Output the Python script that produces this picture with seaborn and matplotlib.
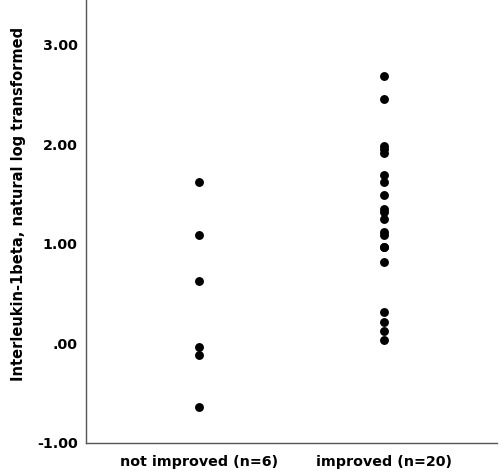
import numpy as np
import pandas as pd
import matplotlib
matplotlib.use('Agg')
import matplotlib.pyplot as plt
import seaborn as sns

# values (IL-1beta, natural log)
groups = ['not improved (n=6)', 'improved (n=20)']
not_improved = [1.62, 1.09, 0.63, -0.04, -0.12, -0.64]
improved = [2.69, 2.45, 1.98, 1.95, 1.91, 1.69, 1.62, 1.49, 1.35, 1.32,
            1.25, 1.12, 1.09, 0.97, 0.82, 0.31, 0.21, 0.12, 0.03, 0.97]
y_ticks = [-1, 0, 1, 2, 3]
y_tick_labels = ['-1.00', '.00', '1.00', '2.00', '3.00']

df = pd.DataFrame({
    'group': [groups[0]] * len(not_improved) + [groups[1]] * len(improved),
    'value': not_improved + improved,
})

sns.set_style('white')
plt.rcParams['font.family'] = ['DejaVu Sans']
plt.rcParams['text.color'] = 'black'
plt.rcParams['axes.labelcolor'] = 'black'
plt.rcParams['xtick.color'] = 'black'
plt.rcParams['ytick.color'] = 'black'

fig = plt.figure(figsize=(5.02, 4.71), dpi=100)
ax = fig.add_axes([0.171, 0.06, 0.819, 0.94])

sns.stripplot(data=df, x='group', y='value', order=groups, jitter=False,
              color='black', size=6.4, linewidth=0, ax=ax)

ax.set_xlim(-0.61, 1.61)
ax.set_ylim(-1.0, 3.45)
ax.set_yticks(y_ticks)
ax.set_yticklabels(y_tick_labels)
ax.set_xlabel('')
ax.set_ylabel('Interleukin-1beta, natural log transformed',
              fontsize=10.5, fontweight='bold')
ax.yaxis.set_label_coords(-0.146, 0.54)
ax.tick_params(axis='both', length=0, labelsize=10.3)
ax.tick_params(axis='x', pad=9)
ax.tick_params(axis='y', pad=6)
for lab in ax.get_xticklabels() + ax.get_yticklabels():
    lab.set_fontweight('bold')

for side in ['top', 'right']:
    ax.spines[side].set_visible(False)
for side in ['left', 'bottom']:
    ax.spines[side].set_color('#555555')
    ax.spines[side].set_linewidth(1.0)

fig.savefig('out.png', dpi=100)
